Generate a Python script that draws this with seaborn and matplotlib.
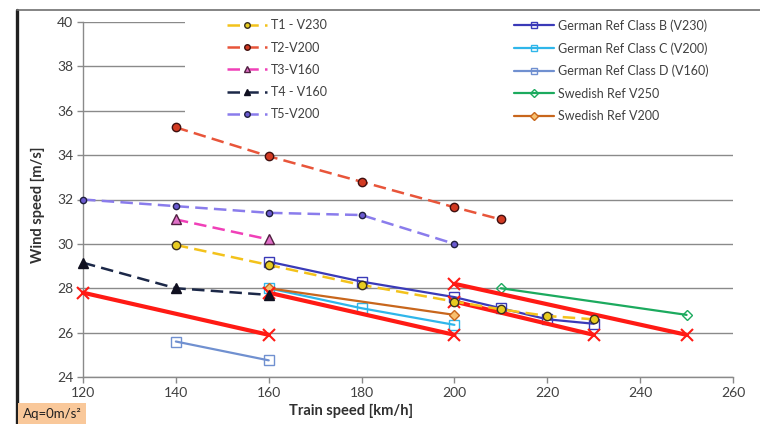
import numpy as np
import matplotlib
matplotlib.use("Agg")
import matplotlib.pyplot as plt
import seaborn as sns
from matplotlib.patches import Rectangle
from matplotlib.lines import Line2D

# dados
t1_x = [140, 160, 180, 200, 210, 220, 230]
t1_y = [29.95, 29.05, 28.15, 27.4, 27.05, 26.75, 26.6]
t2_x = [140, 160, 180, 200, 210]
t2_y = [35.25, 33.95, 32.8, 31.65, 31.1]
t3_x = [140, 160]
t3_y = [31.1, 30.2]
t4_x = [120, 140, 160]
t4_y = [29.15, 28.0, 27.7]
t5_x = [120, 140, 160, 180, 200]
t5_y = [32.0, 31.7, 31.4, 31.3, 30.0]

gb_x = [160, 180, 200, 210, 220, 230]
gb_y = [29.2, 28.3, 27.6, 27.1, 26.6, 26.4]
gc_x = [160, 180, 200]
gc_y = [28.0, 27.1, 26.35]
gd_x = [140, 160]
gd_y = [25.6, 24.75]
sw250_x = [210, 250]
sw250_y = [28.0, 26.8]
sw200_x = [160, 200]
sw200_y = [28.0, 26.8]

# linhas vermelhas (sem legenda)
red_segments = [
    ([120, 160], [27.8, 25.9]),
    ([160, 200], [27.8, 25.9]),
    ([200, 230], [27.4, 25.9]),
    ([200, 250], [28.2, 25.9]),
]

x_ticks = [120, 140, 160, 180, 200, 220, 240, 260]
y_ticks = [24, 26, 28, 30, 32, 34, 36, 38, 40]

sns.set_style("white")
plt.rcParams['font.family'] = ['Lato', 'DejaVu Sans']

fig = plt.figure(figsize=(7.6, 4.24), dpi=100)
ax = fig.add_axes([83 / 760, 1 - 377 / 424, 650 / 760, 355 / 424])

dash = (5, 2.5)

def serie(x, y, color, lw, marker, ms, mfc, mec, dashed=False, label=None, mew=1.0, z=2):
    sns.lineplot(x=x, y=y, ax=ax, color=color, linewidth=lw, marker=marker,
                 markersize=ms, markerfacecolor=mfc, markeredgecolor=mec,
                 markeredgewidth=mew, legend=False, zorder=z)
    line = ax.lines[-1]
    line.set_clip_on(False)
    if dashed:
        line.set_dashes(dash)
    line.set_label(label)
    return line

h_gb = serie(gb_x, gb_y, '#3a3ab8', 1.6, 's', 6.5, 'none', '#3a3ab8', label='German Ref Class B (V230)')
h_gc = serie(gc_x, gc_y, '#2fb6ea', 1.6, 's', 6.5, 'none', '#2fb6ea', label='German Ref Class C (V200)')
h_gd = serie(gd_x, gd_y, '#7090d0', 1.6, 's', 6.5, 'none', '#7090d0', label='German Ref Class D (V160)')
h_s250 = serie(sw250_x, sw250_y, '#1caa5e', 1.6, 'D', 5.5, 'none', '#1caa5e', label='Swedish Ref V250')
h_s200 = serie(sw200_x, sw200_y, '#c8661c', 1.6, 'D', 5.5, '#f8c070', '#c8661c', label='Swedish Ref V200')

for xs, ys in red_segments:
    serie(xs, ys, '#ff1a14', 3.0, 'x', 8, '#ff1a14', '#ff1a14', mew=1.5, z=3)

h_t1 = serie(t1_x, t1_y, '#f3c21b', 1.8, 'o', 6, '#e8cc20', '#3a3020', dashed=True, label='T1 - V230', z=4)
h_t2 = serie(t2_x, t2_y, '#e8553a', 1.8, 'o', 6, '#d23a22', '#401010', dashed=True, label='T2-V200', z=4)
h_t3 = serie(t3_x, t3_y, '#f040b8', 1.8, '^', 7, '#e070c8', '#502040', dashed=True, label='T3-V160', z=4)
h_t4 = serie(t4_x, t4_y, '#1c2848', 1.8, '^', 7, '#101020', '#101020', dashed=True, label='T4 - V160', z=4)
h_t5 = serie(t5_x, t5_y, '#8a7cec', 1.8, 'o', 4.5, '#6a5ad0', '#202040', dashed=True, label='T5-V200', z=4)

ax.set_xlim(120, 260)
ax.set_ylim(24, 40)
ax.set_xticks(x_ticks)
ax.set_yticks(y_ticks)
ax.tick_params(axis='both', labelsize=10, colors='#404040', length=4, width=1,
               direction='out', left=True, bottom=True, pad=3)
ax.tick_params(axis='both', color='#8a8a8a')
ax.set_axisbelow(True)
ax.yaxis.grid(True, color='#8a8a8a', linewidth=1.0)
ax.xaxis.grid(False)
for s in ['top', 'right']:
    ax.spines[s].set_visible(False)
for s in ['left', 'bottom']:
    ax.spines[s].set_color('#8a8a8a')
    ax.spines[s].set_linewidth(1.0)

# fundo branco da área das legendas
ax.add_patch(Rectangle(((185 - 83) / 650, (377 - 122) / 355), (760 - 185) / 650, 122 / 355,
                       transform=ax.transAxes, facecolor='white', edgecolor='none',
                       zorder=1, clip_on=False))

leg_kw = dict(loc='upper left', bbox_transform=fig.transFigure, frameon=False, fontsize=9,
              handlelength=3.2, handletextpad=0.3, labelspacing=0.82, labelcolor='#404040')
leg1 = ax.legend(handles=[h_t1, h_t2, h_t3, h_t4, h_t5],
                 bbox_to_anchor=(216 / 760, 1 - 8 / 424), **leg_kw)
ax.add_artist(leg1)
leg2 = ax.legend(handles=[h_gb, h_gc, h_gd, h_s250, h_s200],
                 bbox_to_anchor=(503 / 760, 1 - 8 / 424), **leg_kw)
for lg in (leg1, leg2):
    for h in lg.legend_handles:
        h.set_markersize(4)

ax.set_xlabel('')
ax.set_ylabel('')
fig.text(38 / 760, 1 - 205 / 424, 'Wind speed [m/s]', rotation=90, ha='center', va='center',
         fontsize=10.5, fontweight='bold', color='#303030')
fig.text(351 / 760, 1 - 411 / 424, 'Train speed [km/h]', ha='center', va='center',
         fontsize=10.5, fontweight='bold', color='#303030')

fig.text(23 / 760, 1 - 414 / 424, 'Aq=0m/s²', ha='left', va='center', fontsize=9.5, color='#202020',
         bbox=dict(boxstyle='square,pad=0.35', facecolor='#f9c89a', edgecolor='none'))

# moldura do gráfico
fig.add_artist(Line2D([17 / 760, 17 / 760], [0, 1 - 10 / 424], transform=fig.transFigure,
                      color='#202020', linewidth=2.4))
fig.add_artist(Line2D([17 / 760, 1], [1 - 10 / 424, 1 - 10 / 424], transform=fig.transFigure,
                      color='#707070', linewidth=1.2))

fig.savefig('out.png', dpi=100)
